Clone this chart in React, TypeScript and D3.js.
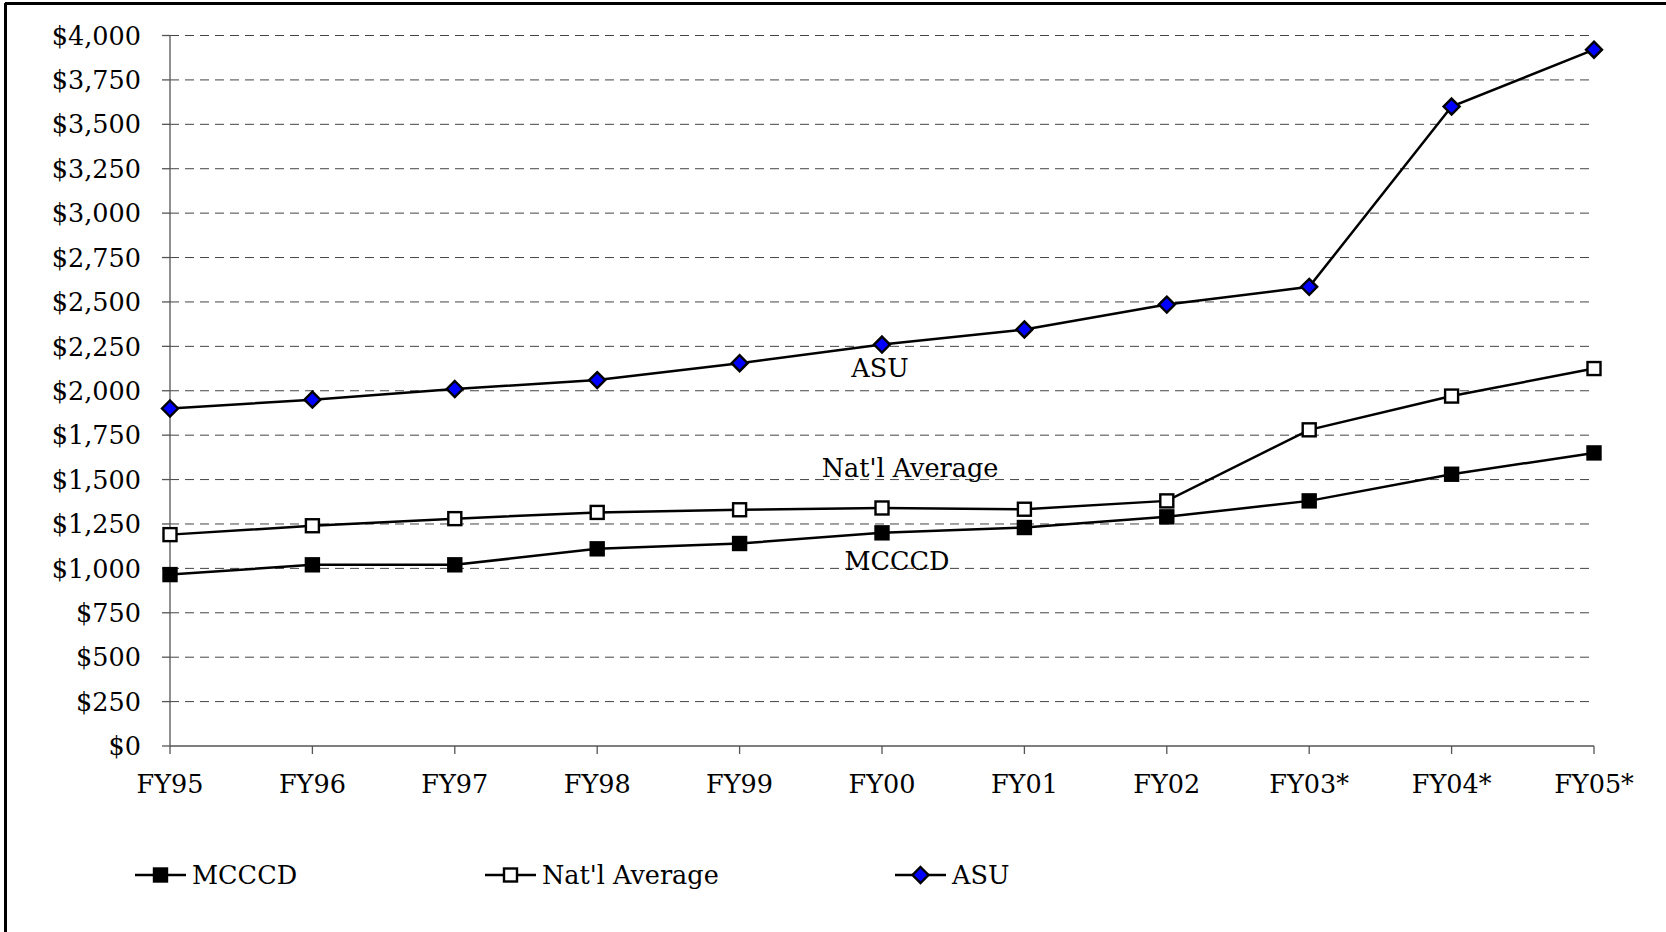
import React from 'react'
import * as d3 from 'd3'

const years = ['FY95', 'FY96', 'FY97', 'FY98', 'FY99', 'FY00', 'FY01', 'FY02', 'FY03*', 'FY04*', 'FY05*']
const mcccd = [965, 1020, 1020, 1110, 1140, 1200, 1230, 1290, 1380, 1530, 1650]
const natlAvg = [1190, 1240, 1280, 1315, 1330, 1340, 1333, 1380, 1780, 1970, 2125]
const asu = [1900, 1950, 2010, 2060, 2155, 2260, 2345, 2485, 2585, 3600, 3920]
const yTicks = [0, 250, 500, 750, 1000, 1250, 1500, 1750, 2000, 2250, 2500, 2750, 3000, 3250, 3500, 3750, 4000]

const W = 1666
const H = 932
const FONT = '"DejaVu Serif", serif'
const FS = 25.5

type Marker = 'filled' | 'open' | 'diamond'

const series: { name: string; values: number[]; marker: Marker; labelX: number; labelY: number }[] = [
  { name: 'MCCCD', values: mcccd, marker: 'filled', labelX: 897, labelY: 561 },
  { name: "Nat'l Average", values: natlAvg, marker: 'open', labelX: 910, labelY: 468 },
  { name: 'ASU', values: asu, marker: 'diamond', labelX: 880, labelY: 368 },
]

const legendX = [135, 485, 895]

function MarkerShape({ type, x, y }: { type: Marker; x: number; y: number }) {
  if (type === 'diamond') {
    const r = 8
    return (
      <path
        d={`M${x},${y - r}L${x + r},${y}L${x},${y + r}L${x - r},${y}Z`}
        fill="#0000ff"
        stroke="#000"
        strokeWidth={2.4}
      />
    )
  }
  const s = 13
  return (
    <rect
      x={x - s / 2}
      y={y - s / 2}
      width={s}
      height={s}
      fill={type === 'filled' ? '#000' : '#fff'}
      stroke="#000"
      strokeWidth={2.4}
    />
  )
}

export default function App() {
  const x = d3.scalePoint<string>().domain(years).range([170, 1594])
  const y = d3.scaleLinear().domain([0, 4000]).range([746, 35.5])
  const line = d3
    .line<number>()
    .x((_, i) => x(years[i]) as number)
    .y((d) => y(d))

  return (
    <svg
      width={W}
      height={H}
      style={{ position: 'absolute', left: 0, top: 0, background: '#fff' }}
      fontFamily={FONT}
    >
      <rect x={0} y={0} width={W} height={H} fill="#fff" />
      {/* frame: only top and left edges are visible */}
      <line x1={5} y1={3.5} x2={W} y2={3.5} stroke="#000" strokeWidth={3} />
      <line x1={5.5} y1={3} x2={5.5} y2={H} stroke="#000" strokeWidth={3} />

      {/* gridlines */}
      {yTicks.slice(1).map((t) => (
        <line
          key={t}
          x1={170}
          x2={1594}
          y1={y(t)}
          y2={y(t)}
          stroke="#444"
          strokeWidth={1}
          strokeDasharray="9,6"
        />
      ))}

      {/* y axis */}
      <line x1={170} x2={170} y1={y(4000)} y2={y(0)} stroke="#555" strokeWidth={1.3} />
      {yTicks.map((t) => (
        <g key={t}>
          <line x1={162} x2={170} y1={y(t)} y2={y(t)} stroke="#555" strokeWidth={1.3} />
          <text x={141} y={y(t)} dy="0.36em" textAnchor="end" fontSize={FS} fill="#000">
            {d3.format('$,')(t)}
          </text>
        </g>
      ))}

      {/* x axis */}
      <line x1={170} x2={1594} y1={y(0)} y2={y(0)} stroke="#555" strokeWidth={1.3} />
      {years.map((yr) => (
        <g key={yr}>
          <line x1={x(yr)} x2={x(yr)} y1={y(0)} y2={y(0) + 8} stroke="#555" strokeWidth={1.3} />
          <text x={x(yr)} y={793} textAnchor="middle" fontSize={FS} fill="#000">
            {yr}
          </text>
        </g>
      ))}

      {/* series */}
      {series.map((s) => (
        <g key={s.name}>
          <path d={line(s.values) || ''} fill="none" stroke="#000" strokeWidth={2.5} />
          {s.values.map((v, i) => (
            <MarkerShape key={i} type={s.marker} x={x(years[i]) as number} y={y(v)} />
          ))}
          <text x={s.labelX} y={s.labelY} dy="0.36em" textAnchor="middle" fontSize={FS} fill="#000">
            {s.name}
          </text>
        </g>
      ))}

      {/* legend */}
      {series.map((s, i) => (
        <g key={s.name} transform={`translate(${legendX[i]},875)`}>
          <line x1={0} x2={51} y1={0} y2={0} stroke="#000" strokeWidth={2.5} />
          <MarkerShape type={s.marker} x={25.5} y={0} />
          <text x={57} y={0} dy="0.36em" fontSize={FS} fill="#000">
            {s.name}
          </text>
        </g>
      ))}
    </svg>
  )
}
